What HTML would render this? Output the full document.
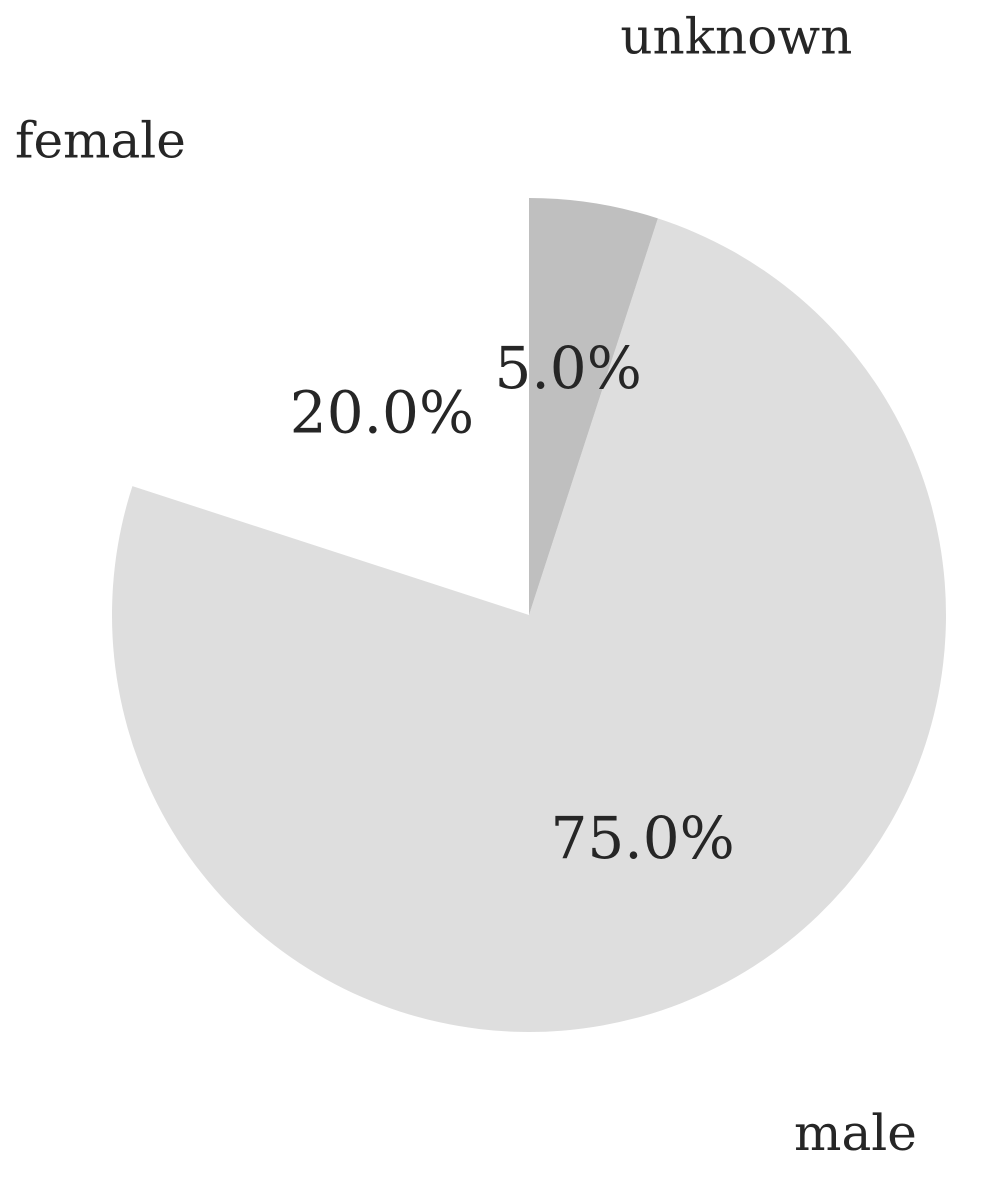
<!DOCTYPE html>
<html><head><meta charset="utf-8"><style>
html,body{margin:0;padding:0;background:#fff;}
svg text{font-family:"DejaVu Serif","Liberation Serif",serif;fill:#262626;}
</style></head><body>
<svg id="chart" width="1008" height="1175" viewBox="0 0 1008 1175" xmlns="http://www.w3.org/2000/svg"></svg>
<script>
const categories = ["female", "male", "unknown"];
const values = [20, 75, 5];
const pctLabels = ["20.0%", "75.0%", "5.0%"];
const colors = ["#ffffff", "#dedede", "#bfbfbf"];
const svg = document.getElementById('chart');
const NS = "http://www.w3.org/2000/svg";
const cx = 529, cy = 615, r = 417;
const total = values.reduce((a,b)=>a+b,0);
function pt(angDeg, d){ const a = angDeg*Math.PI/180; return [cx + d*Math.cos(a), cy - d*Math.sin(a)]; }
let start = 90;
values.forEach((v,i)=>{
  const sweep = v/total*360;
  const end = start + sweep;
  const [x1,y1] = pt(start,r), [x2,y2] = pt(end,r);
  const large = sweep>180?1:0;
  const p = document.createElementNS(NS,'path');
  p.setAttribute('d', `M${cx},${cy} L${x1},${y1} A${r},${r} 0 ${large} 0 ${x2},${y2} Z`);
  p.setAttribute('fill', colors[i]);
  
  
  svg.appendChild(p);
  const mid = start + sweep/2;
  const [lx,ly] = pt(mid, r*1.4);
  const t = document.createElementNS(NS,'text');
  t.setAttribute('x', lx); t.setAttribute('y', ly - 2);
  t.setAttribute('font-size', '50');
  t.setAttribute('dominant-baseline', 'central');
  t.setAttribute('text-anchor', Math.cos(mid*Math.PI/180) < 0 ? 'end' : 'start');
  t.textContent = categories[i];
  
  
  svg.appendChild(t);
  const [px,py] = pt(mid, r*0.6);
  const q = document.createElementNS(NS,'text');
  q.setAttribute('x', px); q.setAttribute('y', py);
  q.setAttribute('font-size', '58');
  q.setAttribute('dominant-baseline', 'central');
  q.setAttribute('text-anchor', 'middle');
  q.textContent = pctLabels[i];
  
  
  svg.appendChild(q);
  start = end;
});
</script>
</body></html>
